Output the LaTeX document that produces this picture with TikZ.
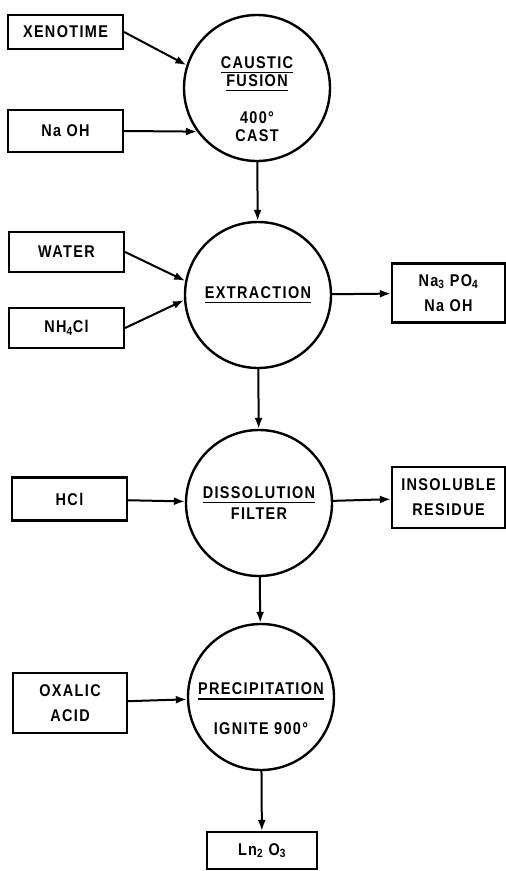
\documentclass[tikz,border=0pt]{standalone}
\usepackage{fontspec}
\setmainfont{Liberation Sans}[LetterSpace=8,FakeStretch=0.85]
\usetikzlibrary{arrows.meta}
\newcommand\uword[1]{\vtop{\hbox{#1}\kern3pt\hrule height 1.6pt}}

\begin{document}
\begin{tikzpicture}[x=1pt,y=-1pt,>={Latex[length=11pt,width=8pt]}]
\tikzstyle{stage}=[draw,circle,line width=2.4pt,minimum size=146pt,inner sep=0pt]
\tikzstyle{stagetext}=[align=center,font=\fontsize{17}{18}\selectfont\bfseries]
\tikzstyle{feed}=[draw,rectangle,line width=2.2pt,inner sep=0pt,align=center,font=\fontsize{17}{25}\selectfont\bfseries]
\tikzstyle{flow}=[->,line width=2pt]
\useasboundingbox (0,0) rectangle (506,871);
% process steps
\node [stage] (fusion) at (257,88) {};
\node [stage] (extract) at (258,295) {};
\node [stage] (dissol) at (259,503) {};
\node [stage] (precip) at (261,697) {};
\node [stagetext] (fusiontext) at (fusion) [yshift=-11pt] {\uword{CAUSTIC}\\\uword{FUSION}\\[19pt]400°\\CAST};
\node [stagetext] (extracttext) at (extract) {\uword{EXTRACTION}};
\node [stagetext] (dissoltext) at (dissol) {\uword{DISSOLUTION}\\[3pt]FILTER};
\node [stagetext] (preciptext) at (precip) [yshift=-12pt] {\uword{PRECIPITATION}\\[22pt]IGNITE 900°};
% feeds and products
\node [feed,minimum width=115pt,minimum height=34pt] (xeno) at (65.5,32) {XENOTIME};
\node [feed,minimum width=115pt,minimum height=42pt] (naoh) at (65.5,131) {Na OH};
\node [feed,minimum width=115pt,minimum height=40pt] (water) at (66.5,252) {WATER};
\node [feed,minimum width=115pt,minimum height=40pt] (nh4cl) at (66.5,328) {NH\textsubscript{4}Cl};
\node [feed,minimum width=113pt,minimum height=59pt] (na3po4) at (448.5,293) {Na\textsubscript{3} PO\textsubscript{4}\\Na OH};
\node [feed,minimum width=115pt,minimum height=43pt] (hcl) at (69.5,499) {HCl};
\node [feed,minimum width=113pt,minimum height=61pt] (insol) at (448.5,497.5) {INSOLUBLE\\RESIDUE};
\node [feed,minimum width=114pt,minimum height=60pt] (oxalic) at (70,703) {OXALIC\\ACID};
\node [feed,minimum width=110pt,minimum height=37pt] (ln2o3) at (262,850.5) {Ln\textsubscript{2} O\textsubscript{3}};
\path[flow]
    (xeno.east) edge (fusion.162)
    (naoh.east) edge (fusion.216)
    (fusion) edge (extract)
    (water.east) edge (extract.169)
    (nh4cl.east) edge (extract.184)
    (extract) edge (na3po4)
    (extract) edge (dissol)
    (hcl) edge (dissol)
    (dissol) edge (insol)
    (dissol) edge (precip)
    (oxalic) edge (precip)
    (precip) edge (ln2o3);
\end{tikzpicture}
\end{document}
